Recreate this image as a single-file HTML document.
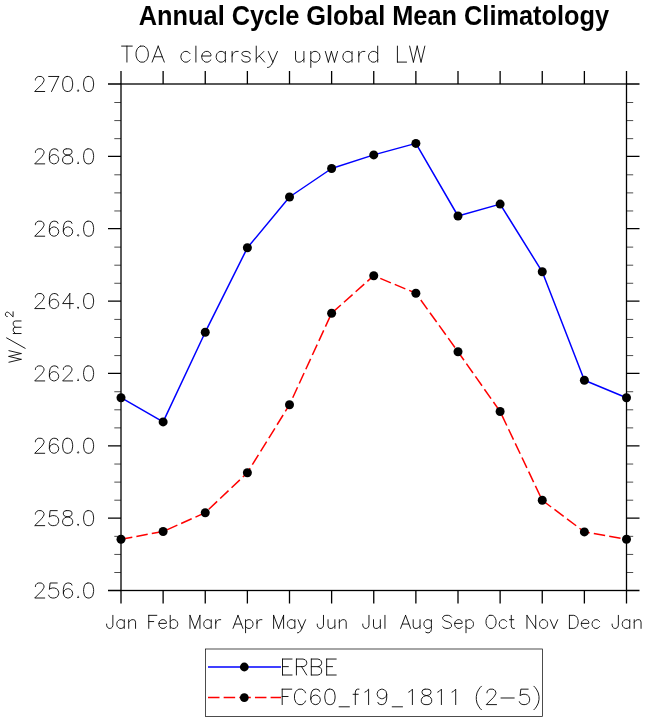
<!DOCTYPE html>
<html><head><meta charset="utf-8"><style>
html,body{margin:0;padding:0;background:#fff;}
svg{display:block;font-family:"Liberation Sans",sans-serif;}
</style></head><body>
<svg width="647" height="722" viewBox="0 0 647 722">
<rect x="121.0" y="84.0" width="505.5" height="506.5" fill="none" stroke="#000" stroke-width="1.3"/>
<path d="M121 84.0V71.0M121 590.5V603.5" stroke="#000" stroke-width="1.3"/>
<path d="M163.12 84.0V71.0M163.12 590.5V603.5" stroke="#000" stroke-width="1.3"/>
<path d="M205.25 84.0V71.0M205.25 590.5V603.5" stroke="#000" stroke-width="1.3"/>
<path d="M247.38 84.0V71.0M247.38 590.5V603.5" stroke="#000" stroke-width="1.3"/>
<path d="M289.5 84.0V71.0M289.5 590.5V603.5" stroke="#000" stroke-width="1.3"/>
<path d="M331.62 84.0V71.0M331.62 590.5V603.5" stroke="#000" stroke-width="1.3"/>
<path d="M373.75 84.0V71.0M373.75 590.5V603.5" stroke="#000" stroke-width="1.3"/>
<path d="M415.88 84.0V71.0M415.88 590.5V603.5" stroke="#000" stroke-width="1.3"/>
<path d="M458 84.0V71.0M458 590.5V603.5" stroke="#000" stroke-width="1.3"/>
<path d="M500.12 84.0V71.0M500.12 590.5V603.5" stroke="#000" stroke-width="1.3"/>
<path d="M542.25 84.0V71.0M542.25 590.5V603.5" stroke="#000" stroke-width="1.3"/>
<path d="M584.38 84.0V71.0M584.38 590.5V603.5" stroke="#000" stroke-width="1.3"/>
<path d="M626.5 84.0V71.0M626.5 590.5V603.5" stroke="#000" stroke-width="1.3"/>
<path d="M108.0 590.5H121.0M626.5 590.5H639.5" stroke="#000" stroke-width="1.3"/>
<path d="M114.3 572.5H121.0M626.5 572.5H633.2" stroke="#000" stroke-width="0.7"/>
<path d="M114.3 554.43H121.0M626.5 554.43H633.2" stroke="#000" stroke-width="0.7"/>
<path d="M114.3 536.35H121.0M626.5 536.35H633.2" stroke="#000" stroke-width="0.7"/>
<path d="M108.0 518.14H121.0M626.5 518.14H639.5" stroke="#000" stroke-width="1.3"/>
<path d="M114.3 500.19H121.0M626.5 500.19H633.2" stroke="#000" stroke-width="0.7"/>
<path d="M114.3 482.12H121.0M626.5 482.12H633.2" stroke="#000" stroke-width="0.7"/>
<path d="M114.3 464.04H121.0M626.5 464.04H633.2" stroke="#000" stroke-width="0.7"/>
<path d="M108.0 445.79H121.0M626.5 445.79H639.5" stroke="#000" stroke-width="1.3"/>
<path d="M114.3 427.89H121.0M626.5 427.89H633.2" stroke="#000" stroke-width="0.7"/>
<path d="M114.3 409.81H121.0M626.5 409.81H633.2" stroke="#000" stroke-width="0.7"/>
<path d="M114.3 391.73H121.0M626.5 391.73H633.2" stroke="#000" stroke-width="0.7"/>
<path d="M108.0 373.43H121.0M626.5 373.43H639.5" stroke="#000" stroke-width="1.3"/>
<path d="M114.3 355.58H121.0M626.5 355.58H633.2" stroke="#000" stroke-width="0.7"/>
<path d="M114.3 337.5H121.0M626.5 337.5H633.2" stroke="#000" stroke-width="0.7"/>
<path d="M114.3 319.42H121.0M626.5 319.42H633.2" stroke="#000" stroke-width="0.7"/>
<path d="M108.0 301.07H121.0M626.5 301.07H639.5" stroke="#000" stroke-width="1.3"/>
<path d="M114.3 283.27H121.0M626.5 283.27H633.2" stroke="#000" stroke-width="0.7"/>
<path d="M114.3 265.19H121.0M626.5 265.19H633.2" stroke="#000" stroke-width="0.7"/>
<path d="M114.3 247.12H121.0M626.5 247.12H633.2" stroke="#000" stroke-width="0.7"/>
<path d="M108.0 228.71H121.0M626.5 228.71H639.5" stroke="#000" stroke-width="1.3"/>
<path d="M114.3 210.96H121.0M626.5 210.96H633.2" stroke="#000" stroke-width="0.7"/>
<path d="M114.3 192.88H121.0M626.5 192.88H633.2" stroke="#000" stroke-width="0.7"/>
<path d="M114.3 174.81H121.0M626.5 174.81H633.2" stroke="#000" stroke-width="0.7"/>
<path d="M108.0 156.36H121.0M626.5 156.36H639.5" stroke="#000" stroke-width="1.3"/>
<path d="M114.3 138.65H121.0M626.5 138.65H633.2" stroke="#000" stroke-width="0.7"/>
<path d="M114.3 120.58H121.0M626.5 120.58H633.2" stroke="#000" stroke-width="0.7"/>
<path d="M114.3 102.5H121.0M626.5 102.5H633.2" stroke="#000" stroke-width="0.7"/>
<path d="M108.0 84H121.0M626.5 84H639.5" stroke="#000" stroke-width="1.3"/>
<polyline points="121,397.7 163.12,421.9 205.25,332.2 247.38,247.8 289.5,197 331.62,168.5 373.75,154.9 415.88,143.4 458,216 500.12,204.1 542.25,271.8 584.38,380.2 626.5,397.7" fill="none" stroke="#00f" stroke-width="1.5" stroke-linejoin="round"/>
<polyline points="121,539.3 163.12,531.5 205.25,512.7 247.38,472.7 289.5,404.7 331.62,313.2 373.75,275.7 415.88,293.2 458,351.7 500.12,411.5 542.25,500.3 584.38,531.9 626.5,539.3" fill="none" stroke="#f00" stroke-width="1.5" stroke-dasharray="11.5 4.15"/>
<circle cx="121" cy="397.7" r="4.5"/>
<circle cx="163.12" cy="421.9" r="4.5"/>
<circle cx="205.25" cy="332.2" r="4.5"/>
<circle cx="247.38" cy="247.8" r="4.5"/>
<circle cx="289.5" cy="197" r="4.5"/>
<circle cx="331.62" cy="168.5" r="4.5"/>
<circle cx="373.75" cy="154.9" r="4.5"/>
<circle cx="415.88" cy="143.4" r="4.5"/>
<circle cx="458" cy="216" r="4.5"/>
<circle cx="500.12" cy="204.1" r="4.5"/>
<circle cx="542.25" cy="271.8" r="4.5"/>
<circle cx="584.38" cy="380.2" r="4.5"/>
<circle cx="626.5" cy="397.7" r="4.5"/>
<circle cx="121" cy="539.3" r="4.5"/>
<circle cx="163.12" cy="531.5" r="4.5"/>
<circle cx="205.25" cy="512.7" r="4.5"/>
<circle cx="247.38" cy="472.7" r="4.5"/>
<circle cx="289.5" cy="404.7" r="4.5"/>
<circle cx="331.62" cy="313.2" r="4.5"/>
<circle cx="373.75" cy="275.7" r="4.5"/>
<circle cx="415.88" cy="293.2" r="4.5"/>
<circle cx="458" cy="351.7" r="4.5"/>
<circle cx="500.12" cy="411.5" r="4.5"/>
<circle cx="542.25" cy="500.3" r="4.5"/>
<circle cx="584.38" cy="531.9" r="4.5"/>
<circle cx="626.5" cy="539.3" r="4.5"/>
<path d="M35.41 586.56 35.41 585.85 36.13 584.41 36.84 583.7 38.27 582.99 41.13 582.99 42.56 583.7 43.28 584.41 43.99 585.85 43.99 587.27 43.28 588.71 41.85 590.85 34.7 598 44.71 598M57.25 582.99 50.1 582.99 49.38 589.42 50.1 588.71 52.24 587.99 54.39 587.99 56.53 588.71 57.96 590.13 58.68 592.28 58.68 593.71 57.96 595.86 56.53 597.28 54.39 598 52.24 598 50.1 597.28 49.38 596.57 48.67 595.14M71.93 585.13 71.22 583.7 69.07 582.99 67.64 582.99 65.5 583.7 64.07 585.85 63.35 589.42 63.35 593 64.07 595.86 65.5 597.28 67.64 598 68.36 598 70.5 597.28 71.93 595.86 72.65 593.71 72.65 593 71.93 590.85 70.5 589.42 68.36 588.71 67.64 588.71 65.5 589.42 64.07 590.85 63.35 593M78.12 596.57 77.4 597.28 78.12 598 78.83 597.28 78.12 596.57M87.88 582.99 85.73 583.7 84.3 585.85 83.59 589.42 83.59 591.57 84.3 595.14 85.73 597.28 87.88 598 89.31 598 91.45 597.28 92.88 595.14 93.6 591.57 93.6 589.42 92.88 585.85 91.45 583.7 89.31 582.99 87.88 582.99M35.41 514.2 35.41 513.49 36.13 512.06 36.84 511.34 38.27 510.63 41.13 510.63 42.56 511.34 43.28 512.06 43.99 513.49 43.99 514.92 43.28 516.35 41.85 518.49 34.7 525.64 44.71 525.64M57.25 510.63 50.1 510.63 49.38 517.06 50.1 516.35 52.24 515.63 54.39 515.63 56.53 516.35 57.96 517.78 58.68 519.92 58.68 521.35 57.96 523.5 56.53 524.93 54.39 525.64 52.24 525.64 50.1 524.93 49.38 524.21 48.67 522.78M66.21 510.63 64.07 511.34 63.35 512.77 63.35 514.2 64.07 515.63 65.5 516.35 68.36 517.06 70.5 517.78 71.93 519.21 72.65 520.64 72.65 522.78 71.93 524.21 71.22 524.93 69.07 525.64 66.21 525.64 64.07 524.93 63.35 524.21 62.64 522.78 62.64 520.64 63.35 519.21 64.78 517.78 66.93 517.06 69.79 516.35 71.22 515.63 71.93 514.2 71.93 512.77 71.22 511.34 69.07 510.63 66.21 510.63M78.12 524.21 77.4 524.93 78.12 525.64 78.83 524.93 78.12 524.21M87.88 510.63 85.73 511.34 84.3 513.49 83.59 517.06 83.59 519.21 84.3 522.78 85.73 524.93 87.88 525.64 89.31 525.64 91.45 524.93 92.88 522.78 93.6 519.21 93.6 517.06 92.88 513.49 91.45 511.34 89.31 510.63 87.88 510.63M35.41 441.85 35.41 441.13 36.13 439.7 36.84 438.99 38.27 438.27 41.13 438.27 42.56 438.99 43.28 439.7 43.99 441.13 43.99 442.56 43.28 443.99 41.85 446.14 34.7 453.29 44.71 453.29M57.96 440.42 57.25 438.99 55.1 438.27 53.67 438.27 51.53 438.99 50.1 441.13 49.38 444.71 49.38 448.28 50.1 451.14 51.53 452.57 53.67 453.29 54.39 453.29 56.53 452.57 57.96 451.14 58.68 449 58.68 448.28 57.96 446.14 56.53 444.71 54.39 443.99 53.67 443.99 51.53 444.71 50.1 446.14 49.38 448.28M66.93 438.27 64.78 438.99 63.35 441.13 62.64 444.71 62.64 446.85 63.35 450.43 64.78 452.57 66.93 453.29 68.36 453.29 70.5 452.57 71.93 450.43 72.65 446.85 72.65 444.71 71.93 441.13 70.5 438.99 68.36 438.27 66.93 438.27M78.12 451.86 77.4 452.57 78.12 453.29 78.83 452.57 78.12 451.86M87.88 438.27 85.73 438.99 84.3 441.13 83.59 444.71 83.59 446.85 84.3 450.43 85.73 452.57 87.88 453.29 89.31 453.29 91.45 452.57 92.88 450.43 93.6 446.85 93.6 444.71 92.88 441.13 91.45 438.99 89.31 438.27 87.88 438.27M35.41 369.49 35.41 368.77 36.13 367.34 36.84 366.63 38.27 365.91 41.13 365.91 42.56 366.63 43.28 367.34 43.99 368.77 43.99 370.2 43.28 371.63 41.85 373.78 34.7 380.93 44.71 380.93M57.96 368.06 57.25 366.63 55.1 365.91 53.67 365.91 51.53 366.63 50.1 368.77 49.38 372.35 49.38 375.92 50.1 378.78 51.53 380.21 53.67 380.93 54.39 380.93 56.53 380.21 57.96 378.78 58.68 376.64 58.68 375.92 57.96 373.78 56.53 372.35 54.39 371.63 53.67 371.63 51.53 372.35 50.1 373.78 49.38 375.92M63.35 369.49 63.35 368.77 64.07 367.34 64.78 366.63 66.21 365.91 69.07 365.91 70.5 366.63 71.22 367.34 71.93 368.77 71.93 370.2 71.22 371.63 69.79 373.78 62.64 380.93 72.65 380.93M78.12 379.5 77.4 380.21 78.12 380.93 78.83 380.21 78.12 379.5M87.88 365.91 85.73 366.63 84.3 368.77 83.59 372.35 83.59 374.49 84.3 378.07 85.73 380.21 87.88 380.93 89.31 380.93 91.45 380.21 92.88 378.07 93.6 374.49 93.6 372.35 92.88 368.77 91.45 366.63 89.31 365.91 87.88 365.91M35.41 297.13 35.41 296.42 36.13 294.99 36.84 294.27 38.27 293.56 41.13 293.56 42.56 294.27 43.28 294.99 43.99 296.42 43.99 297.85 43.28 299.28 41.85 301.42 34.7 308.57 44.71 308.57M57.96 295.7 57.25 294.27 55.1 293.56 53.67 293.56 51.53 294.27 50.1 296.42 49.38 299.99 49.38 303.57 50.1 306.43 51.53 307.86 53.67 308.57 54.39 308.57 56.53 307.86 57.96 306.43 58.68 304.28 58.68 303.57 57.96 301.42 56.53 299.99 54.39 299.28 53.67 299.28 51.53 299.99 50.1 301.42 49.38 303.57M69.79 293.56 62.64 303.57 73.36 303.57M69.79 293.56 69.79 308.57M78.12 307.14 77.4 307.86 78.12 308.57 78.83 307.86 78.12 307.14M87.88 293.56 85.73 294.27 84.3 296.42 83.59 299.99 83.59 302.14 84.3 305.71 85.73 307.86 87.88 308.57 89.31 308.57 91.45 307.86 92.88 305.71 93.6 302.14 93.6 299.99 92.88 296.42 91.45 294.27 89.31 293.56 87.88 293.56M35.41 224.77 35.41 224.06 36.13 222.63 36.84 221.91 38.27 221.2 41.13 221.2 42.56 221.91 43.28 222.63 43.99 224.06 43.99 225.49 43.28 226.92 41.85 229.06 34.7 236.21 44.71 236.21M57.96 223.34 57.25 221.91 55.1 221.2 53.67 221.2 51.53 221.91 50.1 224.06 49.38 227.63 49.38 231.21 50.1 234.07 51.53 235.5 53.67 236.21 54.39 236.21 56.53 235.5 57.96 234.07 58.68 231.92 58.68 231.21 57.96 229.06 56.53 227.63 54.39 226.92 53.67 226.92 51.53 227.63 50.1 229.06 49.38 231.21M71.93 223.34 71.22 221.91 69.07 221.2 67.64 221.2 65.5 221.91 64.07 224.06 63.35 227.63 63.35 231.21 64.07 234.07 65.5 235.5 67.64 236.21 68.36 236.21 70.5 235.5 71.93 234.07 72.65 231.92 72.65 231.21 71.93 229.06 70.5 227.63 68.36 226.92 67.64 226.92 65.5 227.63 64.07 229.06 63.35 231.21M78.12 234.78 77.4 235.5 78.12 236.21 78.83 235.5 78.12 234.78M87.88 221.2 85.73 221.91 84.3 224.06 83.59 227.63 83.59 229.78 84.3 233.35 85.73 235.5 87.88 236.21 89.31 236.21 91.45 235.5 92.88 233.35 93.6 229.78 93.6 227.63 92.88 224.06 91.45 221.91 89.31 221.2 87.88 221.2M35.41 152.42 35.41 151.7 36.13 150.27 36.84 149.56 38.27 148.84 41.13 148.84 42.56 149.56 43.28 150.27 43.99 151.7 43.99 153.13 43.28 154.56 41.85 156.71 34.7 163.86 44.71 163.86M57.96 150.99 57.25 149.56 55.1 148.84 53.67 148.84 51.53 149.56 50.1 151.7 49.38 155.28 49.38 158.85 50.1 161.71 51.53 163.14 53.67 163.86 54.39 163.86 56.53 163.14 57.96 161.71 58.68 159.57 58.68 158.85 57.96 156.71 56.53 155.28 54.39 154.56 53.67 154.56 51.53 155.28 50.1 156.71 49.38 158.85M66.21 148.84 64.07 149.56 63.35 150.99 63.35 152.42 64.07 153.85 65.5 154.56 68.36 155.28 70.5 155.99 71.93 157.42 72.65 158.85 72.65 161 71.93 162.43 71.22 163.14 69.07 163.86 66.21 163.86 64.07 163.14 63.35 162.43 62.64 161 62.64 158.85 63.35 157.42 64.78 155.99 66.93 155.28 69.79 154.56 71.22 153.85 71.93 152.42 71.93 150.99 71.22 149.56 69.07 148.84 66.21 148.84M78.12 162.43 77.4 163.14 78.12 163.86 78.83 163.14 78.12 162.43M87.88 148.84 85.73 149.56 84.3 151.7 83.59 155.28 83.59 157.42 84.3 161 85.73 163.14 87.88 163.86 89.31 163.86 91.45 163.14 92.88 161 93.6 157.42 93.6 155.28 92.88 151.7 91.45 149.56 89.31 148.84 87.88 148.84M35.41 80.06 35.41 79.34 36.13 77.92 36.84 77.2 38.27 76.48 41.13 76.48 42.56 77.2 43.28 77.92 43.99 79.34 43.99 80.78 43.28 82.2 41.85 84.35 34.7 91.5 44.71 91.5M58.68 76.48 51.53 91.5M48.67 76.48 58.68 76.48M66.93 76.48 64.78 77.2 63.35 79.34 62.64 82.92 62.64 85.06 63.35 88.64 64.78 90.78 66.93 91.5 68.36 91.5 70.5 90.78 71.93 88.64 72.65 85.06 72.65 82.92 71.93 79.34 70.5 77.2 68.36 76.48 66.93 76.48M78.12 90.07 77.4 90.78 78.12 91.5 78.83 90.78 78.12 90.07M87.88 76.48 85.73 77.2 84.3 79.34 83.59 82.92 83.59 85.06 84.3 88.64 85.73 90.78 87.88 91.5 89.31 91.5 91.45 90.78 92.88 88.64 93.6 85.06 93.6 82.92 92.88 79.34 91.45 77.2 89.31 76.48 87.88 76.48M112.86 615.34 112.86 625.29 112.24 627.16 111.62 627.78 110.37 628.4 109.13 628.4 107.88 627.78 107.26 627.16 106.64 625.29 106.64 624.05M124.24 619.69 124.24 628.4M124.24 621.56 122.99 620.31 121.75 619.69 119.88 619.69 118.64 620.31 117.39 621.56 116.77 623.42 116.77 624.67 117.39 626.53 118.64 627.78 119.88 628.4 121.75 628.4 122.99 627.78 124.24 626.53M128.72 619.69 128.72 628.4M128.72 622.18 130.58 620.31 131.83 619.69 133.69 619.69 134.94 620.31 135.56 622.18 135.56 628.4M148.77 615.34 148.77 628.4M148.77 615.34 156.85 615.34M148.77 621.56 153.74 621.56M158.9 623.42 166.36 623.42 166.36 622.18 165.74 620.94 165.12 620.31 163.87 619.69 162.01 619.69 160.76 620.31 159.52 621.56 158.9 623.42 158.9 624.67 159.52 626.53 160.76 627.78 162.01 628.4 163.87 628.4 165.12 627.78 166.36 626.53M170.22 615.34 170.22 628.4M170.22 621.56 171.47 620.31 172.71 619.69 174.58 619.69 175.82 620.31 177.06 621.56 177.69 623.42 177.69 624.67 177.06 626.53 175.82 627.78 174.58 628.4 172.71 628.4 171.47 627.78 170.22 626.53M189.98 615.34 189.98 628.4M189.98 615.34 194.96 628.4M199.94 615.34 194.96 628.4M199.94 615.34 199.94 628.4M211.21 619.69 211.21 628.4M211.21 621.56 209.96 620.31 208.72 619.69 206.85 619.69 205.61 620.31 204.36 621.56 203.74 623.42 203.74 624.67 204.36 626.53 205.61 627.78 206.85 628.4 208.72 628.4 209.96 627.78 211.21 626.53M215.74 619.69 215.74 628.4M215.74 623.42 216.36 621.56 217.61 620.31 218.85 619.69 220.72 619.69M237.98 615.34 233 628.4M237.98 615.34 242.95 628.4M234.87 624.05 241.09 624.05M245.57 619.69 245.57 632.75M245.57 621.56 246.81 620.31 248.06 619.69 249.92 619.69 251.17 620.31 252.41 621.56 253.03 623.42 253.03 624.67 252.41 626.53 251.17 627.78 249.92 628.4 248.06 628.4 246.81 627.78 245.57 626.53M256.97 619.69 256.97 628.4M256.97 623.42 257.59 621.56 258.84 620.31 260.08 619.69 261.95 619.69M273.62 615.34 273.62 628.4M273.62 615.34 278.6 628.4M283.58 615.34 278.6 628.4M283.58 615.34 283.58 628.4M294.85 619.69 294.85 628.4M294.85 621.56 293.6 620.31 292.36 619.69 290.49 619.69 289.25 620.31 288.01 621.56 287.38 623.42 287.38 624.67 288.01 626.53 289.25 627.78 290.49 628.4 292.36 628.4 293.6 627.78 294.85 626.53M298.11 619.69 301.84 628.4M305.58 619.69 301.84 628.4 300.6 630.89 299.36 632.13 298.11 632.75 297.49 632.75M323.49 615.34 323.49 625.29 322.86 627.16 322.24 627.78 321 628.4 319.75 628.4 318.51 627.78 317.89 627.16 317.27 625.29 317.27 624.05M328.02 619.69 328.02 625.91 328.64 627.78 329.89 628.4 331.75 628.4 333 627.78 334.86 625.91M334.86 619.69 334.86 628.4M339.34 619.69 339.34 628.4M339.34 622.18 341.21 620.31 342.45 619.69 344.32 619.69 345.56 620.31 346.19 622.18 346.19 628.4M368.97 615.34 368.97 625.29 368.34 627.16 367.72 627.78 366.48 628.4 365.23 628.4 363.99 627.78 363.37 627.16 362.75 625.29 362.75 624.05M373.5 619.69 373.5 625.91 374.12 627.78 375.37 628.4 377.23 628.4 378.48 627.78 380.34 625.91M380.34 619.69 380.34 628.4M384.95 615.34 384.95 628.4M405.57 615.34 400.59 628.4M405.57 615.34 410.55 628.4M402.46 624.05 408.68 624.05M413.19 619.69 413.19 625.91 413.81 627.78 415.06 628.4 416.92 628.4 418.16 627.78 420.03 625.91M420.03 619.69 420.03 628.4M431.36 619.69 431.36 629.64 430.73 631.51 430.11 632.13 428.87 632.75 427 632.75 425.76 632.13M431.36 621.56 430.11 620.31 428.87 619.69 427 619.69 425.76 620.31 424.51 621.56 423.89 623.42 423.89 624.67 424.51 626.53 425.76 627.78 427 628.4 428.87 628.4 430.11 627.78 431.36 626.53M451.44 617.2 450.2 615.96 448.33 615.34 445.84 615.34 443.98 615.96 442.73 617.2 442.73 618.45 443.36 619.69 443.98 620.31 445.22 620.94 448.95 622.18 450.2 622.8 450.82 623.42 451.44 624.67 451.44 626.53 450.2 627.78 448.33 628.4 445.84 628.4 443.98 627.78 442.73 626.53M454.68 623.42 462.14 623.42 462.14 622.18 461.52 620.94 460.9 620.31 459.66 619.69 457.79 619.69 456.55 620.31 455.3 621.56 454.68 623.42 454.68 624.67 455.3 626.53 456.55 627.78 457.79 628.4 459.66 628.4 460.9 627.78 462.14 626.53M466 619.69 466 632.75M466 621.56 467.25 620.31 468.49 619.69 470.36 619.69 471.6 620.31 472.85 621.56 473.47 623.42 473.47 624.67 472.85 626.53 471.6 627.78 470.36 628.4 468.49 628.4 467.25 627.78 466 626.53M489.78 615.34 488.54 615.96 487.29 617.2 486.67 618.45 486.05 620.31 486.05 623.42 486.67 625.29 487.29 626.53 488.54 627.78 489.78 628.4 492.27 628.4 493.51 627.78 494.76 626.53 495.38 625.29 496 623.42 496 620.31 495.38 618.45 494.76 617.2 493.51 615.96 492.27 615.34 489.78 615.34M506.68 621.56 505.43 620.31 504.19 619.69 502.32 619.69 501.08 620.31 499.84 621.56 499.21 623.42 499.21 624.67 499.84 626.53 501.08 627.78 502.32 628.4 504.19 628.4 505.43 627.78 506.68 626.53M511.29 615.34 511.29 625.91 511.91 627.78 513.16 628.4 514.4 628.4M509.42 619.69 513.78 619.69M526.98 615.34 526.98 628.4M526.98 615.34 535.69 628.4M535.69 615.34 535.69 628.4M542.64 619.69 541.39 620.31 540.15 621.56 539.53 623.42 539.53 624.67 540.15 626.53 541.39 627.78 542.64 628.4 544.5 628.4 545.75 627.78 546.99 626.53 547.61 624.67 547.61 623.42 546.99 621.56 545.75 620.31 544.5 619.69 542.64 619.69M550.25 619.69 553.99 628.4M557.72 619.69 553.99 628.4M569.41 615.34 569.41 628.4M569.41 615.34 573.76 615.34 575.63 615.96 576.87 617.2 577.49 618.45 578.11 620.31 578.11 623.42 577.49 625.29 576.87 626.53 575.63 627.78 573.76 628.4 569.41 628.4M581.35 623.42 588.82 623.42 588.82 622.18 588.19 620.94 587.57 620.31 586.33 619.69 584.46 619.69 583.22 620.31 581.97 621.56 581.35 623.42 581.35 624.67 581.97 626.53 583.22 627.78 584.46 628.4 586.33 628.4 587.57 627.78 588.82 626.53M599.54 621.56 598.3 620.31 597.06 619.69 595.19 619.69 593.95 620.31 592.7 621.56 592.08 623.42 592.08 624.67 592.7 626.53 593.95 627.78 595.19 628.4 597.06 628.4 598.3 627.78 599.54 626.53M618.36 615.34 618.36 625.29 617.74 627.16 617.12 627.78 615.87 628.4 614.63 628.4 613.38 627.78 612.76 627.16 612.14 625.29 612.14 624.05M629.74 619.69 629.74 628.4M629.74 621.56 628.49 620.31 627.25 619.69 625.38 619.69 624.14 620.31 622.89 621.56 622.27 623.42 622.27 624.67 622.89 626.53 624.14 627.78 625.38 628.4 627.25 628.4 628.49 627.78 629.74 626.53M634.22 619.69 634.22 628.4M634.22 622.18 636.08 620.31 637.33 619.69 639.19 619.69 640.44 620.31 641.06 622.18 641.06 628.4M126.93 46.1 126.93 62.1M121.6 46.1 132.27 46.1M140.65 46.1 139.12 46.86 137.6 48.38 136.84 49.91 136.07 52.19 136.07 56 136.84 58.29 137.6 59.81 139.12 61.34 140.65 62.1 143.69 62.1 145.22 61.34 146.74 59.81 147.5 58.29 148.27 56 148.27 52.19 147.5 49.91 146.74 48.38 145.22 46.86 143.69 46.1 140.65 46.1M158.21 46.1 152.11 62.1M158.21 46.1 164.3 62.1M154.4 56.77 162.02 56.77M190.05 53.72 188.52 52.19 187 51.43 184.71 51.43 183.19 52.19 181.66 53.72 180.9 56 180.9 57.53 181.66 59.81 183.19 61.34 184.71 62.1 187 62.1 188.52 61.34 190.05 59.81M195.9 46.1 195.9 62.1M201.75 56 210.9 56 210.9 54.48 210.13 52.96 209.37 52.19 207.85 51.43 205.56 51.43 204.04 52.19 202.51 53.72 201.75 56 201.75 57.53 202.51 59.81 204.04 61.34 205.56 62.1 207.85 62.1 209.37 61.34 210.9 59.81M225.33 51.43 225.33 62.1M225.33 53.72 223.81 52.19 222.28 51.43 220 51.43 218.47 52.19 216.95 53.72 216.19 56 216.19 57.53 216.95 59.81 218.47 61.34 220 62.1 222.28 62.1 223.81 61.34 225.33 59.81M232.1 51.43 232.1 62.1M232.1 56 232.87 53.72 234.39 52.19 235.91 51.43 238.2 51.43M250.19 53.72 249.43 52.19 247.14 51.43 244.86 51.43 242.57 52.19 241.81 53.72 242.57 55.24 244.09 56 247.9 56.77 249.43 57.53 250.19 59.05 250.19 59.81 249.43 61.34 247.14 62.1 244.86 62.1 242.57 61.34 241.81 59.81M256.24 46.1 256.24 62.1M263.86 51.43 256.24 59.05M259.29 56 264.62 62.1M268.31 51.43 272.88 62.1M277.45 51.43 272.88 62.1 271.36 65.15 269.83 66.67 268.31 67.43 267.55 67.43M295.54 51.43 295.54 59.05 296.3 61.34 297.82 62.1 300.11 62.1 301.63 61.34 303.92 59.05M303.92 51.43 303.92 62.1M310.81 51.43 310.81 67.43M310.81 53.72 312.34 52.19 313.86 51.43 316.15 51.43 317.67 52.19 319.19 53.72 319.96 56 319.96 57.53 319.19 59.81 317.67 61.34 316.15 62.1 313.86 62.1 312.34 61.34 310.81 59.81M325.33 51.43 328.37 62.1M331.42 51.43 328.37 62.1M331.42 51.43 334.47 62.1M337.52 51.43 334.47 62.1M352.03 51.43 352.03 62.1M352.03 53.72 350.51 52.19 348.98 51.43 346.7 51.43 345.17 52.19 343.65 53.72 342.89 56 342.89 57.53 343.65 59.81 345.17 61.34 346.7 62.1 348.98 62.1 350.51 61.34 352.03 59.81M358.81 51.43 358.81 62.1M358.81 56 359.57 53.72 361.09 52.19 362.62 51.43 364.9 51.43M377.69 46.1 377.69 62.1M377.69 53.72 376.17 52.19 374.65 51.43 372.36 51.43 370.84 52.19 369.31 53.72 368.55 56 368.55 57.53 369.31 59.81 370.84 61.34 372.36 62.1 374.65 62.1 376.17 61.34 377.69 59.81M397.42 46.1 397.42 62.1M397.42 62.1 406.56 62.1M409.61 46.1 413.42 62.1M417.23 46.1 413.42 62.1M417.23 46.1 421.04 62.1M424.85 46.1 421.04 62.1M282.5 659.04 282.5 675M282.5 659.04 292.06 659.04M282.5 666.64 288.38 666.64M282.5 675 292.06 675M296.41 659.04 296.41 675M296.41 659.04 303.02 659.04 305.23 659.8 305.96 660.56 306.69 662.08 306.69 663.6 305.96 665.12 305.23 665.88 303.02 666.64 296.41 666.64M301.55 666.64 306.69 675M311.31 659.04 311.31 675M311.31 659.04 317.92 659.04 320.12 659.8 320.86 660.56 321.59 662.08 321.59 663.6 320.86 665.12 320.12 665.88 317.92 666.64M311.31 666.64 317.92 666.64 320.12 667.4 320.86 668.16 321.59 669.68 321.59 671.96 320.86 673.48 320.12 674.24 317.92 675 311.31 675M326.67 659.04 326.67 675M326.67 659.04 336.23 659.04M326.67 666.64 332.55 666.64M326.67 675 336.23 675M282.2 689.17 282.2 704.6M282.2 689.17 291.76 689.17M282.2 696.51 288.08 696.51M305.51 692.84 304.78 691.37 303.31 689.9 301.84 689.17 298.9 689.17 297.43 689.9 295.96 691.37 295.22 692.84 294.49 695.05 294.49 698.72 295.22 700.93 295.96 702.39 297.43 703.87 298.9 704.6 301.84 704.6 303.31 703.87 304.78 702.39 305.51 700.93M319.59 691.37 318.86 689.9 316.65 689.17 315.18 689.17 312.98 689.9 311.51 692.11 310.77 695.78 310.77 699.46 311.51 702.39 312.98 703.87 315.18 704.6 315.92 704.6 318.12 703.87 319.59 702.39 320.33 700.19 320.33 699.46 319.59 697.25 318.12 695.78 315.92 695.05 315.18 695.05 312.98 695.78 311.51 697.25 310.77 699.46M329.21 689.17 327.01 689.9 325.54 692.11 324.81 695.78 324.81 697.99 325.54 701.66 327.01 703.87 329.21 704.6 330.69 704.6 332.89 703.87 334.36 701.66 335.09 697.99 335.09 695.78 334.36 692.11 332.89 689.9 330.69 689.17 329.21 689.17M339.11 706.81 349.39 706.81M358.98 689.17 357.51 689.17 356.04 689.9 355.31 692.11 355.31 704.6M353.1 694.31 358.25 694.31M364.92 692.11 366.39 691.37 368.6 689.17 368.6 704.6M386.73 694.31 385.99 696.51 384.52 697.99 382.32 698.72 381.58 698.72 379.38 697.99 377.91 696.51 377.17 694.31 377.17 693.58 377.91 691.37 379.38 689.9 381.58 689.17 382.32 689.17 384.52 689.9 385.99 691.37 386.73 694.31 386.73 697.99 385.99 701.66 384.52 703.87 382.32 704.6 380.85 704.6 378.64 703.87 377.91 702.39M392.21 706.81 402.5 706.81M408.72 692.11 410.19 691.37 412.4 689.17 412.4 704.6M425.03 689.17 422.82 689.9 422.09 691.37 422.09 692.84 422.82 694.31 424.3 695.05 427.24 695.78 429.44 696.51 430.91 697.99 431.64 699.46 431.64 701.66 430.91 703.13 430.18 703.87 427.97 704.6 425.03 704.6 422.82 703.87 422.09 703.13 421.36 701.66 421.36 699.46 422.09 697.99 423.56 696.51 425.76 695.78 428.7 695.05 430.18 694.31 430.91 692.84 430.91 691.37 430.18 689.9 427.97 689.17 425.03 689.17M437.72 692.11 439.19 691.37 441.4 689.17 441.4 704.6M452.02 692.11 453.49 691.37 455.7 689.17 455.7 704.6M481.44 686.23 479.97 687.7 478.5 689.9 477.03 692.84 476.3 696.51 476.3 699.46 477.03 703.13 478.5 706.07 479.97 708.27 481.44 709.75M486.99 692.84 486.99 692.11 487.72 690.63 488.46 689.9 489.93 689.17 492.87 689.17 494.34 689.9 495.07 690.63 495.81 692.11 495.81 693.58 495.07 695.05 493.6 697.25 486.25 704.6 496.54 704.6M500.99 697.99 514.22 697.99M528.17 689.17 520.83 689.17 520.09 695.78 520.83 695.05 523.03 694.31 525.24 694.31 527.44 695.05 528.91 696.51 529.64 698.72 529.64 700.19 528.91 702.39 527.44 703.87 525.24 704.6 523.03 704.6 520.83 703.87 520.09 703.13 519.36 701.66M533.86 686.23 535.33 687.7 536.8 689.9 538.27 692.84 539 696.51 539 699.46 538.27 703.13 536.8 706.07 535.33 708.27 533.86 709.75M8.92 362.24 21.1 359.34M8.92 356.44 21.1 359.34M8.92 356.44 21.1 353.54M8.92 350.64 21.1 353.54M6.6 337.88 25.16 348.32M13.26 333.52 21.1 333.52M15.5 333.52 13.82 331.81 13.26 330.67 13.26 328.96 13.82 327.82 15.5 327.25 21.1 327.25M15.5 327.25 13.82 325.54 13.26 324.4 13.26 322.69 13.82 321.55 15.5 320.98 21.1 320.98M7.26 316.54 6.89 316.54 6.17 316.18 5.8 315.81 5.43 315.08 5.43 313.62 5.8 312.89 6.17 312.52 6.89 312.16 7.62 312.16 8.36 312.52 9.45 313.25 13.1 316.9 13.1 311.8" fill="none" stroke="#000" stroke-width="0.9" stroke-linecap="round" stroke-linejoin="round"/>
<text style="will-change:transform" x="138.8" y="25.0" font-size="27.5" font-weight="bold" textLength="470.3" lengthAdjust="spacingAndGlyphs">Annual Cycle Global Mean Climatology</text>
<rect x="205.5" y="649" width="337" height="67.5" fill="none" stroke="#000" stroke-width="0.7"/>
<path d="M208 667H281" stroke="#00f" stroke-width="1.3"/>
<path d="M208 697.6H281" stroke="#f00" stroke-width="1.5" stroke-dasharray="11.5 4.15"/>
<circle cx="244.3" cy="667" r="4.4"/><circle cx="244.3" cy="697.6" r="4.4"/>
</svg>
</body></html>
